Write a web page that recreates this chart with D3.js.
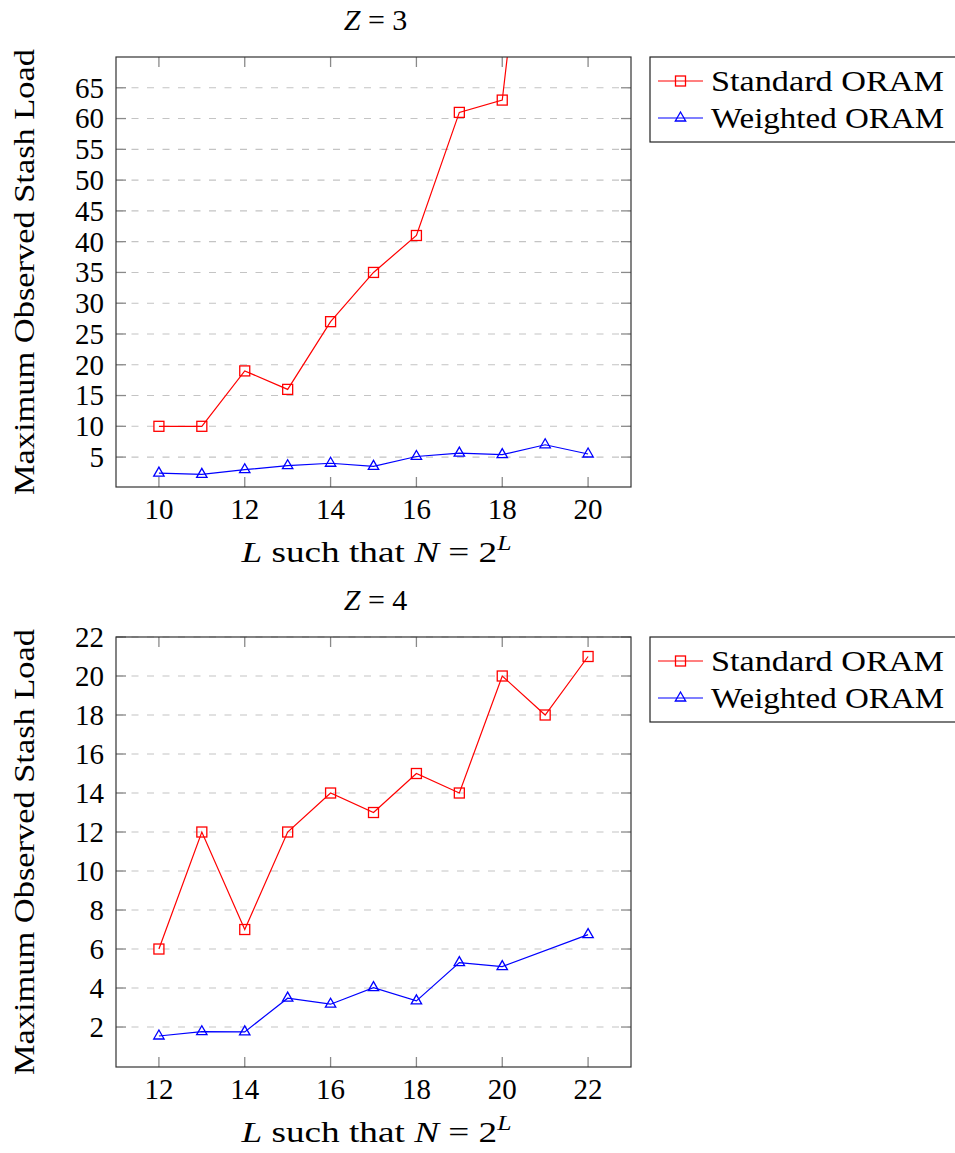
<!DOCTYPE html>
<html>
<head>
<meta charset="utf-8">
<title>Stash load</title>
<script src="https://cdn.jsdelivr.net/npm/d3@7"></script>
<style>
  body { margin: 0; background: #fff; }
</style>
</head>
<body>
<svg id="fig" width="955" height="1153" font-family="'Liberation Serif', 'DejaVu Serif', serif"></svg>
<script>
// ---- data ----
const levelsZ3 = [10, 11, 12, 13, 14, 15, 16, 17, 18, 19, 20];
const standardZ3 = [10, 10, 19, 16, 27, 35, 41, 61, 63, 123, 180];
const weightedZ3 = [2.4, 2.2, 2.95, 3.6, 4.0, 3.5, 5.1, 5.65, 5.4, 7.0, 5.5];

const levelsZ4 = [12, 13, 14, 15, 16, 17, 18, 19, 20, 21, 22];
const standardZ4 = [6, 12, 7, 12, 14, 13, 15, 14, 20, 18, 21];
const weightedLevelsZ4 = [12, 13, 14, 15, 16, 17, 18, 19, 20, 22];
const weightedZ4 = [1.54, 1.76, 1.75, 3.48, 3.17, 4.02, 3.34, 5.3, 5.1, 6.74];

const yTicksZ3 = [5, 10, 15, 20, 25, 30, 35, 40, 45, 50, 55, 60, 65];
const xTicksZ3 = [10, 12, 14, 16, 18, 20];
const yTicksZ4 = [2, 4, 6, 8, 10, 12, 14, 16, 18, 20, 22];
const xTicksZ4 = [12, 14, 16, 18, 20, 22];

const seriesNames = ["Standard ORAM", "Weighted ORAM"];
const seriesColors = ["#ff0000", "#0000ff"];

const svg = d3.select("#fig");
let clipId = 0;

function drawPanel(opt) {
  const left = 116, right = 631, top = opt.top, bottom = opt.top + 430;
  const x = d3.scaleLinear().domain(opt.xDomain).range([left, right]);
  const y = d3.scaleLinear().domain(opt.yDomain).range([bottom, top]);
  const g = svg.append("g");

  // grid
  g.selectAll("line.grid").data(opt.yTicks).join("line")
    .attr("x1", left).attr("x2", right)
    .attr("y1", d => y(d)).attr("y2", d => y(d))
    .attr("stroke", "#c4c4c4").attr("stroke-width", 1.1)
    .attr("stroke-dasharray", "7 8.5");

  // ticks on all four sides, pointing inward
  const tl = 10;
  opt.yTicks.forEach(t => {
    g.append("line").attr("x1", left).attr("x2", left + tl).attr("y1", y(t)).attr("y2", y(t))
      .attr("stroke", "#8a8a8a").attr("stroke-width", 1.3);
    g.append("line").attr("x1", right - tl).attr("x2", right).attr("y1", y(t)).attr("y2", y(t))
      .attr("stroke", "#8a8a8a").attr("stroke-width", 1.3);
  });
  opt.xTicks.forEach(t => {
    g.append("line").attr("x1", x(t)).attr("x2", x(t)).attr("y1", bottom).attr("y2", bottom - tl)
      .attr("stroke", "#8a8a8a").attr("stroke-width", 1.3);
    g.append("line").attr("x1", x(t)).attr("x2", x(t)).attr("y1", top).attr("y2", top + tl)
      .attr("stroke", "#8a8a8a").attr("stroke-width", 1.3);
  });

  // tick labels
  g.selectAll("text.yt").data(opt.yTicks).join("text")
    .attr("x", 104).attr("y", d => y(d)).attr("dy", "0.34em")
    .attr("text-anchor", "end").attr("font-size", 29).text(d => d);
  g.selectAll("text.xt").data(opt.xTicks).join("text")
    .attr("x", d => x(d)).attr("y", bottom + 32)
    .attr("text-anchor", "middle").attr("font-size", 29).text(d => d);

  // clip
  const cid = "clip" + (clipId++);
  svg.append("clipPath").attr("id", cid).append("rect")
    .attr("x", left).attr("y", top).attr("width", right - left).attr("height", bottom - top);
  const plot = g.append("g").attr("clip-path", `url(#${cid})`);

  const line = d3.line().x(d => x(d[0])).y(d => y(d[1]));
  opt.series.forEach((s, i) => {
    const pts = s.xs.map((v, k) => [v, s.ys[k]]);
    plot.append("path").datum(pts).attr("d", line)
      .attr("fill", "none").attr("stroke", seriesColors[i]).attr("stroke-width", 1.2);
    const inView = pts.filter(p => p[1] <= opt.yDomain[1]);
    if (i === 0) {
      plot.selectAll("rect.m" + i).data(inView).join("rect")
        .attr("x", d => x(d[0]) - 5).attr("y", d => y(d[1]) - 5)
        .attr("width", 10).attr("height", 10)
        .attr("fill", "none").attr("stroke", seriesColors[i]).attr("stroke-width", 1.3);
    } else {
      plot.selectAll("path.m" + i).data(inView).join("path")
        .attr("d", d => triangle(x(d[0]), y(d[1])))
        .attr("fill", "none").attr("stroke", seriesColors[i]).attr("stroke-width", 1.3);
    }
  });

  // frame
  g.append("rect").attr("x", left).attr("y", top).attr("width", right - left).attr("height", bottom - top)
    .attr("fill", "none").attr("stroke", "#333").attr("stroke-width", 1.2);

  // title
  const title = g.append("text").attr("x", (left + right) / 2 + 2).attr("y", top - 27)
    .attr("text-anchor", "middle").attr("font-size", 30);
  title.append("tspan").attr("font-style", "italic").text("Z");
  title.append("tspan").text("\u2005=\u2005" + opt.z);

  // x label
  const xl = g.append("text").attr("x", (left + right) / 2 + 3).attr("y", bottom + 75)
    .attr("text-anchor", "middle").attr("font-size", 29)
    .attr("textLength", 270).attr("lengthAdjust", "spacingAndGlyphs");
  xl.append("tspan").attr("font-style", "italic").text("L");
  xl.append("tspan").text(" such that ");
  xl.append("tspan").attr("font-style", "italic").text("N");
  xl.append("tspan").text("\u2005=\u20052");
  xl.append("tspan").attr("font-style", "italic").attr("font-size", 20).attr("dy", -12).text("L");

  // y label
  g.append("text").attr("transform", `translate(34,${(top + bottom) / 2}) rotate(-90)`)
    .attr("text-anchor", "middle").attr("font-size", 29)
    .attr("textLength", 446).attr("lengthAdjust", "spacingAndGlyphs")
    .text("Maximum Observed Stash Load");

  // legend
  const lg = g.append("g");
  lg.append("rect").attr("x", 650).attr("y", top).attr("width", 320).attr("height", 85)
    .attr("fill", "#fff").attr("stroke", "#222").attr("stroke-width", 1.2);
  seriesNames.forEach((name, i) => {
    const cy = top + 24 + i * 37;
    lg.append("line").attr("x1", 658).attr("x2", 703).attr("y1", cy).attr("y2", cy)
      .attr("stroke", seriesColors[i]).attr("stroke-width", 1.2);
    if (i === 0) {
      lg.append("rect").attr("x", 675.5).attr("y", cy - 5).attr("width", 10).attr("height", 10)
        .attr("fill", "none").attr("stroke", seriesColors[i]).attr("stroke-width", 1.3);
    } else {
      lg.append("path").attr("d", triangle(680.5, cy))
        .attr("fill", "none").attr("stroke", seriesColors[i]).attr("stroke-width", 1.3);
    }
    lg.append("text").attr("x", 711).attr("y", cy).attr("dy", "0.34em")
      .attr("font-size", 29).attr("textLength", 233).attr("lengthAdjust", "spacingAndGlyphs").text(name);
  });
}

function triangle(cx, cy) {
  const r = 6;
  return `M${cx},${cy - r}L${cx + r * 0.866},${cy + r * 0.5}L${cx - r * 0.866},${cy + r * 0.5}Z`;
}

drawPanel({
  top: 57, z: 3, xDomain: [9, 21], yDomain: [0.14, 70],
  yTicks: yTicksZ3, xTicks: xTicksZ3,
  series: [{xs: levelsZ3, ys: standardZ3}, {xs: levelsZ3, ys: weightedZ3}]
});
drawPanel({
  top: 637, z: 4, xDomain: [11, 23], yDomain: [-0.05, 22],
  yTicks: yTicksZ4, xTicks: xTicksZ4,
  series: [{xs: levelsZ4, ys: standardZ4}, {xs: weightedLevelsZ4, ys: weightedZ4}]
});
</script>
</body>
</html>
